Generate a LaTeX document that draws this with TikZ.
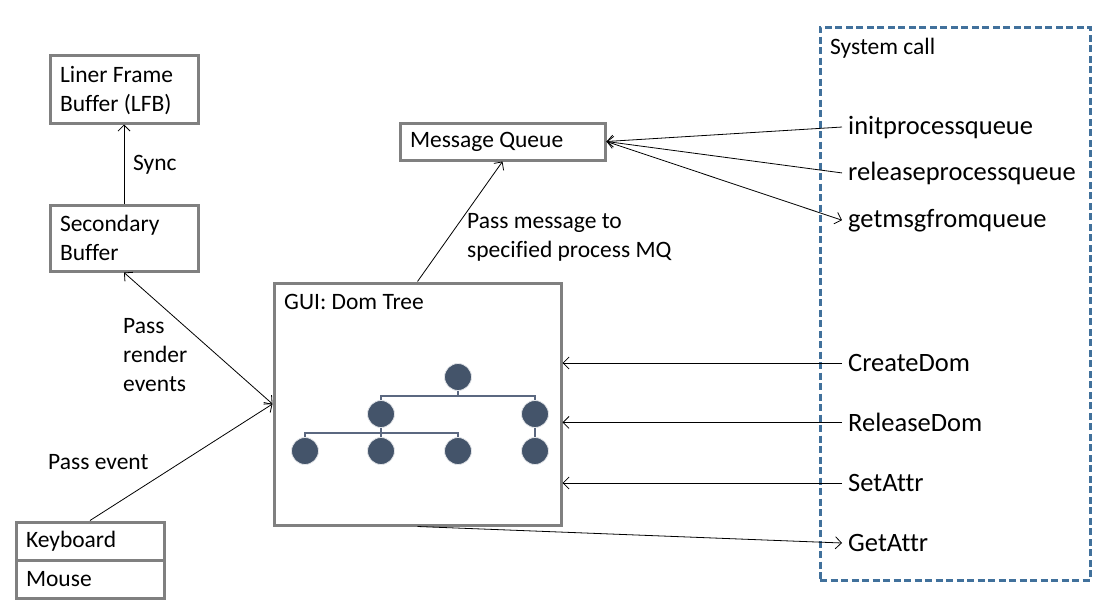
\documentclass[tikz,border=0pt]{standalone}
\usepackage{fontspec}
\setmainfont{Carlito}[Ligatures=NoCommon]
\usetikzlibrary{arrows.meta}
\definecolor{boxgray}{HTML}{808080}
\definecolor{sysblue}{HTML}{41719C}
\definecolor{treefill}{HTML}{44546A}
\definecolor{treeline}{HTML}{5B6880}
\begin{document}
\begin{tikzpicture}[x=1pt,y=-1pt,
  smallf/.style={font=\fontsize{23.5}{29}\selectfont},
  bigf/.style={font=\fontsize{26.5}{32}\selectfont},
  box/.style={draw=boxgray, line width=3pt, inner ysep=0pt, inner xsep=10pt, align=flush left, smallf},
  lbl/.style={inner sep=0pt, anchor=base west, align=flush left, smallf},
  sys/.style={inner ysep=0pt, inner xsep=6pt, anchor=base west, bigf},
  arr/.style={draw=black, line width=0.8pt, -{Straight Barb[length=6pt,width=12pt]}},
  arrb/.style={draw=black, line width=0.8pt, {Straight Barb[length=6pt,width=12pt]}-{Straight Barb[length=6pt,width=12pt]}},
  tnode/.style={circle, fill=treefill, draw=white!85!treefill, line width=0.8pt, minimum size=27pt, inner sep=0pt},
  tl/.style={draw=treeline, line width=1.5pt}
]
\useasboundingbox (0,0) rectangle (1107,605);

% system call frame
\node[draw=sysblue, line width=3pt, dash pattern=on 7pt off 3.5pt, minimum width=270pt, minimum height=553pt, inner sep=0pt] (sysbox) at (955,303.5) {};
\node[lbl] (systitle) at (830,54) {System call};

% left boxes
\node[box, text width=128pt, minimum height=68pt] (lfb) at (124,89) {\rule{0pt}{20pt}Liner Frame\\Buffer (LFB)};
\node[box, text width=128pt, minimum height=66pt] (sec) at (124,238) {Secondary\\Buffer};
\node[box, text width=128pt, minimum height=38pt] (kb) at (90,541) {Keyboard};
\node[box, text width=128pt, minimum height=38pt] (ms) at (90,579) {Mouse};

% message queue
\node[box, text width=185pt, minimum height=37pt] (mq) at (502.5,141.5) {Message Queue};

% GUI box
\node[draw=boxgray, line width=3pt, minimum width=287pt, minimum height=242pt, inner sep=0pt] (gui) at (417.5,404) {};
\node[lbl] (guititle) at (284,309) {GUI: Dom Tree};

% tree
\node[tnode] (t0) at (458,377) {};
\node[tnode] (t1) at (381,414) {};
\node[tnode] (t2) at (535,414) {};
\node[tnode] (t3) at (305,451) {};
\node[tnode] (t4) at (381,451) {};
\node[tnode] (t5) at (458,451) {};
\node[tnode] (t6) at (535,451) {};
\draw[tl] (t0.south) -- (t0.south |- 0,396);
\draw[tl] (t1.north) -- (t1.north |- 0,396) -- (t2.north |- 0,396) -- (t2.north);
\draw[tl] (t1.south) -- (t1.south |- 0,433);
\draw[tl] (t3.north) -- (t3.north |- 0,433) -- (t5.north |- 0,433) -- (t5.north);
\draw[tl] (t4.north) -- (t4.north |- 0,433);
\draw[tl] (t2.south) -- (t6.north);

% labels (base anchor = baseline of last line)
\node[lbl] (sync) at (133,170) {Sync};
\node[lbl] (passmsg) at (467,257) {Pass message to\\specified process MQ};
\node[lbl] (render) at (123,391) {Pass\\render\\events};
\node[lbl] (passev) at (48,469) {Pass event};

% system call entries
\node[sys] (init) at (842,134) {initprocessqueue};
\node[sys] (rel) at (842,180) {releaseprocessqueue};
\node[sys] (getmsg) at (842,227) {getmsgfromqueue};
\node[sys] (cdom) at (842,371.5) {CreateDom};
\node[sys] (rdom) at (842,431.5) {ReleaseDom};
\node[sys] (sattr) at (842,491.5) {SetAttr};
\node[sys] (gattr) at (842,551.5) {GetAttr};

% connectors
\draw[arr] (sec.north) -- (lfb.south);
\draw[arrb] (sec.south) -- (gui.west);
\draw[arr] (kb.north) -- (gui.west);
\draw[arr] (gui.north) -- (mq.south);
\draw[arr] (init.west) -- (mq.east);
\draw[arr] (rel.west) -- (mq.east);
\draw[arr] (mq.east) -- (getmsg.west);
\draw[arr] (cdom.west) -- (cdom.west -| gui.east);
\draw[arr] (rdom.west) -- (rdom.west -| gui.east);
\draw[arr] (sattr.west) -- (sattr.west -| gui.east);
\draw[arr] (gui.south) -- (gattr.west);
\end{tikzpicture}
\end{document}
